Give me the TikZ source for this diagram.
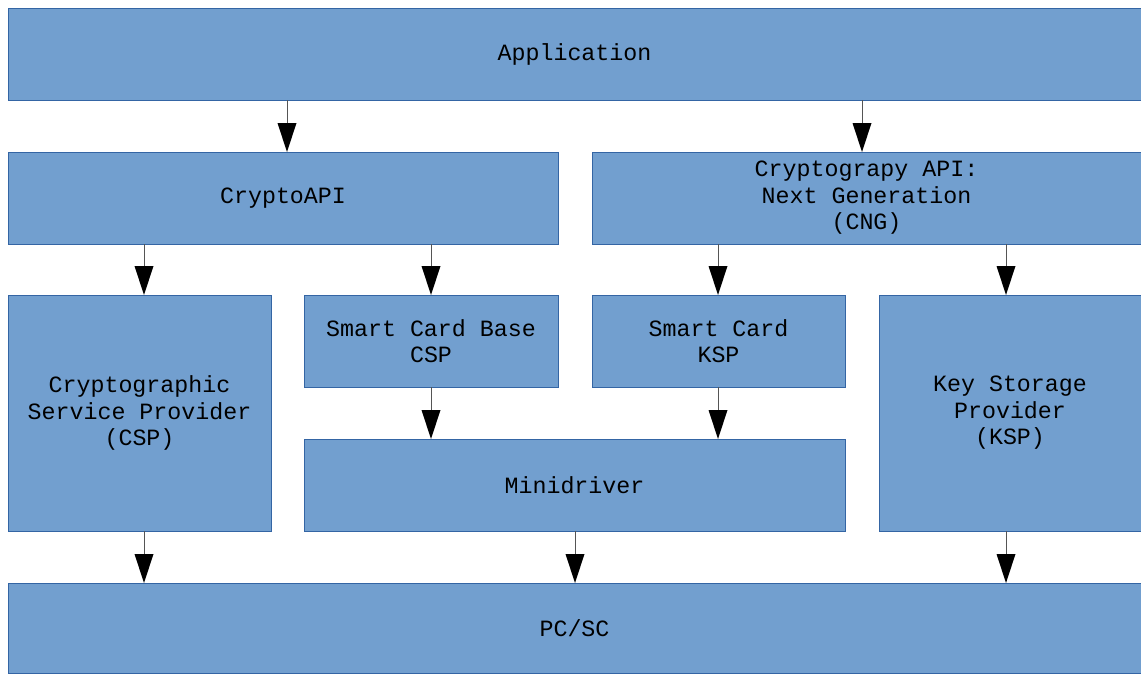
\documentclass[tikz,border=0pt]{standalone}
\usepackage{fontspec}
\setmonofont{Liberation Mono}
\usetikzlibrary{arrows.meta}
\definecolor{boxfill}{HTML}{729FCF}
\definecolor{boxline}{HTML}{3465A4}
\definecolor{shaft}{HTML}{555555}
\tikzset{
  layer/.style={draw=boxline, fill=boxfill, line width=1pt, inner sep=0pt, outer sep=0pt,
    anchor=north west, align=center,
    font=\fontsize{23.3pt}{26.5pt}\selectfont\ttfamily},
  flow/.style={draw=shaft, line width=1pt,
    -{Triangle[width=19pt,length=29pt,fill=black,line width=0pt]}, shorten >=0pt},
}
% boxes placed by their top-left corner, sizes in px-like points
\newcommand{\layerbox}[6]{%
  \node[layer, minimum width=#4pt, minimum height=#5pt] (#1) at (#2pt,-#3pt) {#6};}
\begin{document}
\begin{tikzpicture}[x=1pt,y=1pt]
  \useasboundingbox (0,0) rectangle (1141,-673);

  \layerbox{app}{8}{8}{1133}{92}{Application}
  \layerbox{capi}{8}{152}{550}{92}{CryptoAPI}
  \layerbox{cng}{592}{152}{549}{92}{Cryptograpy API:\\Next Generation\\(CNG)}
  \layerbox{csp}{8}{295}{263}{236}{Cryptographic\\Service Provider\\(CSP)}
  \layerbox{scbase}{304}{295}{254}{92}{Smart Card Base\\CSP}
  \layerbox{scksp}{592}{295}{253}{92}{Smart Card\\KSP}
  \layerbox{ksp}{879}{295}{262}{236}{Key Storage\\Provider\\(KSP)}
  \layerbox{mini}{304}{439}{541}{92}{Minidriver}
  \layerbox{pcsc}{8}{583}{1133}{90}{PC/SC}

  % x positions of the connectors
  \coordinate (xa) at (287,0);
  \coordinate (xb) at (862,0);
  \coordinate (xc) at (144,0);
  \coordinate (xd) at (431,0);
  \coordinate (xe) at (718,0);
  \coordinate (xf) at (1006,0);
  \coordinate (xg) at (575,0);

  \draw[flow] (app.south -| xa) -- (capi.north -| xa);
  \draw[flow] (app.south -| xb) -- (cng.north -| xb);
  \draw[flow] (capi.south -| xc) -- (csp.north -| xc);
  \draw[flow] (capi.south -| xd) -- (scbase.north -| xd);
  \draw[flow] (cng.south -| xe) -- (scksp.north -| xe);
  \draw[flow] (cng.south -| xf) -- (ksp.north -| xf);
  \draw[flow] (scbase.south -| xd) -- (mini.north -| xd);
  \draw[flow] (scksp.south -| xe) -- (mini.north -| xe);
  \draw[flow] (csp.south -| xc) -- (pcsc.north -| xc);
  \draw[flow] (mini.south -| xg) -- (pcsc.north -| xg);
  \draw[flow] (ksp.south -| xf) -- (pcsc.north -| xf);
\end{tikzpicture}
\end{document}
